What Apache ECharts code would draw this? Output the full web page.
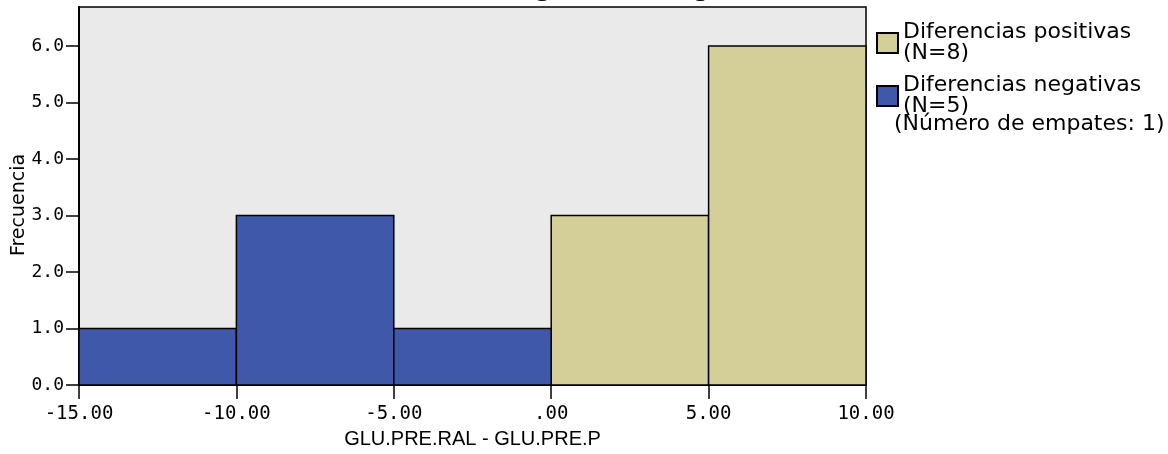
<!DOCTYPE html>
<html>
<head>
<meta charset="utf-8">
<script src="https://cdn.jsdelivr.net/npm/echarts@6/dist/echarts.min.js"></script>
<style>
  html, body { margin: 0; padding: 0; background: #ffffff; }
  #chart { width: 1168px; height: 454px; }
</style>
</head>
<body>
<div id="chart"></div>
<script>
// ---- data ----
const chartTitle = 'Prueba de rangos con signo de Wilcoxon';
const xAxisName = 'GLU.PRE.RAL - GLU.PRE.P';
const yAxisName = 'Frecuencia';
const seriesNames = ['Diferencias positivas', 'Diferencias negativas'];
const seriesN = [8, 5];
const tiesText = '(Número de empates: 1)';

const posBinStart = [0, 5];
const posBinEnd = [5, 10];
const posCounts = [3, 6];

const negBinStart = [-15, -10, -5];
const negBinEnd = [-10, -5, 0];
const negCounts = [1, 3, 1];

const xTickValues = [-15, -10, -5, 0, 5, 10];
const xTickLabels = ['-15.00', '-10.00', '-5.00', '.00', '5.00', '10.00'];
const yTickValues = [0, 1, 2, 3, 4, 5, 6];
const yTickLabels = ['0.0', '1.0', '2.0', '3.0', '4.0', '5.0', '6.0'];

// ---- chart ----
const chart = echarts.init(document.getElementById('chart'), null, { renderer: 'canvas' });

function buildData(starts, ends, counts) {
  return starts.map((s, i) => [s, ends[i], counts[i]]);
}

function renderBin(params, api) {
  const x0 = api.value(0), x1 = api.value(1), y = api.value(2);
  const pTop = api.coord([x0, y]);
  const pBot = api.coord([x1, 0]);
  return {
    type: 'rect',
    shape: { x: pTop[0], y: pTop[1], width: pBot[0] - pTop[0], height: pBot[1] - pTop[1] },
    style: { fill: api.visual('color'), stroke: '#000000', lineWidth: 1.5 }
  };
}

const BLUE = '#3F58AA';
const TAN = '#D4CF99';

const option = {
  animation: false,
  backgroundColor: '#ffffff',
  title: [
    {
      text: chartTitle,
      left: 319,
      top: -31,
      padding: 0,
      z: 10,
      textStyle: { fontFamily: 'Liberation Sans', fontSize: 32, fontWeight: 'bold', color: '#000' }
    },
    {
      text: tiesText,
      left: 894,
      top: 113,
      padding: 0,
      textStyle: { fontFamily: 'DejaVu Sans', fontSize: 22, fontWeight: 'normal', color: '#000' }
    }
  ],
  legend: {
    orient: 'vertical',
    left: 876,
    top: 21,
    padding: 0,
    itemWidth: 21,
    itemHeight: 20,
    itemGap: 9,
    icon: 'rect',
    data: seriesNames,
    formatter: function (name) {
      const i = seriesNames.indexOf(name);
      return name + '\n(N=' + seriesN[i] + ')';
    },
    itemStyle: { borderColor: '#000000', borderWidth: 2 },
    textStyle: { fontFamily: 'DejaVu Sans', fontSize: 22, lineHeight: 21, color: '#000', padding: [2, 0, 0, 0] }
  },
  grid: {
    left: 79, right: 302, top: 7, bottom: 69,
    outerBoundsMode: 'none',
    containLabel: false,
    show: true,
    backgroundColor: '#EAEAEA',
    borderColor: '#000000',
    borderWidth: 1.5
  },
  xAxis: {
    type: 'value',
    min: -15, max: 10, interval: 5,
    name: xAxisName,
    nameLocation: 'middle',
    nameGap: 44,
    nameTextStyle: { fontFamily: 'Liberation Sans', fontSize: 20, color: '#000' },
    axisLine: { show: true, onZero: false, lineStyle: { color: '#000', width: 2 } },
    axisTick: { show: true, length: 14, lineStyle: { color: '#000', width: 1.5 }, customValues: xTickValues },
    axisLabel: {
      margin: 20,
      customValues: xTickValues,
      fontFamily: 'DejaVu Sans Mono', fontSize: 19, color: '#000',
      formatter: function (v) {
        const i = xTickValues.indexOf(Math.round(v * 1000) / 1000);
        return i >= 0 ? xTickLabels[i] : '';
      }
    },
    splitLine: { show: false }
  },
  yAxis: {
    type: 'value',
    min: 0, max: 6.69, interval: 1,
    name: yAxisName,
    nameLocation: 'middle',
    nameGap: 50,
    nameRotate: 90,
    nameMoveOverlap: false,
    nameTextStyle: { fontFamily: 'DejaVu Sans', fontSize: 19, color: '#000', padding: [0, 18, 0, 0] },
    axisLine: { show: true, onZero: false, lineStyle: { color: '#000', width: 2 } },
    axisTick: { show: true, length: 13, lineStyle: { color: '#000', width: 1.5 }, customValues: yTickValues },
    axisLabel: {
      margin: 15,
      customValues: yTickValues,
      fontFamily: 'DejaVu Sans Mono', fontSize: 18, color: '#000',
      formatter: function (v) {
        const i = yTickValues.indexOf(Math.round(v * 1000) / 1000);
        return i >= 0 ? yTickLabels[i] : '';
      }
    },
    splitLine: { show: false }
  },
  series: [
    {
      name: seriesNames[0],
      type: 'custom',
      renderItem: renderBin,
      itemStyle: { color: TAN, borderColor: '#000', borderWidth: 1.5 },
      encode: { x: [0, 1], y: 2 },
      data: buildData(posBinStart, posBinEnd, posCounts),
      z: 3
    },
    {
      name: seriesNames[1],
      type: 'custom',
      renderItem: renderBin,
      itemStyle: { color: BLUE, borderColor: '#000', borderWidth: 1.5 },
      encode: { x: [0, 1], y: 2 },
      data: buildData(negBinStart, negBinEnd, negCounts),
      z: 3
    }
  ]
};

chart.setOption(option);
</script>
</body>
</html>
